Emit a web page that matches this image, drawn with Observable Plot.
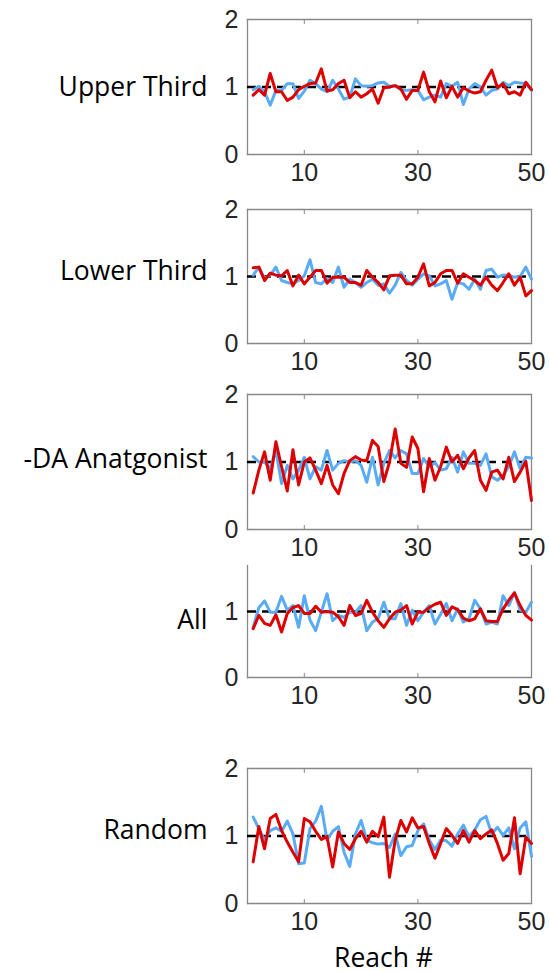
<!DOCTYPE html>
<html>
<head>
<meta charset="utf-8">
<script src="https://cdn.jsdelivr.net/npm/d3@7"></script>
<script src="https://cdn.jsdelivr.net/npm/@observablehq/plot@0.6"></script>
<style>
  html, body { margin: 0; padding: 0; background: #fff; }
  #chart { position: relative; width: 549px; height: 973px; overflow: hidden; }
</style>
</head>
<body>
<div id="chart"></div>
<script>
// ---- data ----
const reach = d3.range(1, 51);
const panelNames = ["Upper Third", "Lower Third", "-DA Anatgonist", "All", "Random"];
const xTickValues = [10, 30, 50];
const yTickValues = [0, 1, 2];
const referenceLevel = 1;
const xLabel = "Reach #";

const blueUpper = [0.96,1.01,0.93,0.73,0.95,0.95,1.05,1.05,0.83,0.94,1.10,1.05,0.97,0.93,1.10,0.97,0.82,0.85,1.12,1.02,1.01,1.02,1.06,1.07,1.01,1.02,0.96,0.95,0.96,0.95,0.81,0.85,0.88,0.85,1.05,1.01,1.07,0.74,0.97,1.05,1.00,0.88,0.95,0.97,1.07,1.02,1.07,1.06,1.05,0.95];
const redUpper  = [0.88,0.96,0.88,1.20,0.93,0.93,0.80,0.85,0.96,1.01,1.05,1.06,1.27,0.94,0.96,1.05,1.10,0.84,0.93,0.85,0.90,0.97,0.76,0.99,1.00,1.02,0.97,0.82,0.95,0.95,1.22,0.93,0.78,1.09,0.84,1.01,0.85,0.99,0.94,0.91,0.93,1.10,1.25,0.99,1.05,0.90,0.93,0.88,1.07,0.96];

const blueLower = [1.02,1.14,0.97,1.02,1.14,0.94,0.91,0.89,0.94,1.01,1.25,0.91,0.89,0.97,0.91,1.14,0.84,0.96,0.91,0.84,0.91,0.96,0.87,0.89,0.75,0.87,1.06,0.94,0.87,0.96,1.04,1.01,0.86,0.89,0.94,0.66,0.91,0.89,0.81,0.96,0.81,1.09,1.11,0.99,1.02,1.02,0.99,1.00,1.14,0.96];
const redLower  = [1.13,1.14,0.94,1.05,1.02,1.01,1.09,0.86,1.02,0.89,0.99,1.09,1.09,0.90,0.99,0.99,0.99,0.91,0.91,0.87,1.09,0.99,0.91,0.80,1.01,1.02,1.02,0.89,0.89,0.99,1.19,0.86,0.91,1.04,1.09,1.09,0.90,1.04,0.99,0.94,0.87,0.99,0.87,0.79,0.91,1.04,0.87,0.99,0.71,0.79];

const blueAntag = [1.08,1.00,1.00,0.90,1.17,0.68,0.95,0.75,0.88,1.07,0.75,0.93,0.88,1.17,0.88,0.98,1.02,1.00,1.02,0.95,0.70,1.07,0.66,0.98,1.17,1.06,1.17,1.12,0.83,0.83,1.05,0.93,0.99,0.88,0.90,1.07,0.85,1.15,0.98,0.98,0.95,1.12,0.78,0.73,0.80,0.93,1.15,0.90,1.07,1.06];
const redAntag  = [0.54,0.88,1.15,0.73,1.30,0.93,0.57,1.18,0.66,1.00,1.06,0.88,0.68,0.95,0.66,0.53,0.83,1.02,1.08,1.03,1.02,1.32,1.23,0.71,1.00,1.49,0.98,0.92,1.37,1.20,0.56,1.05,0.73,0.93,1.22,1.00,1.10,0.90,1.06,1.17,0.73,0.58,0.85,0.88,0.75,1.07,0.71,0.85,1.01,0.43];

const blueAll = [0.76,1.06,1.16,0.99,0.99,1.23,1.02,1.09,0.76,1.24,0.87,0.71,0.99,1.27,0.86,0.94,0.91,0.99,0.99,1.09,0.71,0.84,0.89,1.14,0.89,0.89,1.12,0.79,1.02,0.86,0.99,1.09,0.81,0.96,1.12,0.86,1.04,0.84,0.89,1.17,1.04,0.81,0.84,0.81,1.24,1.09,1.29,1.02,0.99,1.14];
const redAll  = [0.74,0.94,0.82,0.79,0.95,0.69,0.97,1.06,1.09,0.97,0.97,1.08,0.99,1.00,0.99,0.92,0.79,1.09,0.94,0.97,1.17,0.99,0.86,0.76,0.89,0.99,1.02,1.09,0.81,0.99,0.99,1.06,1.11,1.14,0.94,1.07,1.03,0.90,0.86,0.89,1.04,0.86,0.85,0.85,1.04,1.17,1.28,1.09,0.94,0.87];

const blueRandom = [1.28,1.11,0.94,1.08,1.12,1.07,1.22,1.03,0.59,0.60,1.11,1.22,1.44,0.94,1.07,1.14,0.76,0.55,1.03,1.23,0.94,0.90,0.88,0.89,0.83,1.03,0.71,0.84,0.86,1.08,1.18,0.94,0.80,0.94,0.93,0.85,1.03,1.16,0.99,1.09,1.24,1.29,1.03,1.13,1.01,1.12,0.81,1.12,1.21,0.70];
const redRandom  = [0.62,1.14,0.81,1.26,1.32,1.08,0.91,0.76,0.62,1.26,1.21,1.07,0.95,0.99,0.54,1.06,0.89,0.80,0.96,1.07,0.91,1.07,0.99,1.28,0.39,0.94,1.23,1.06,1.27,1.12,1.14,0.89,0.67,0.89,1.11,1.01,0.89,1.08,0.91,1.08,0.96,1.03,1.09,0.89,0.64,0.74,1.27,0.44,0.98,0.89];

const blueSeries = [blueUpper, blueLower, blueAntag, blueAll, blueRandom];
const redSeries  = [redUpper, redLower, redAntag, redAll, redRandom];

// ---- layout / style (not data) ----
const layout = [
  {top: 19,  bottom: 154, ymax: 2,     topFrame: true,  labelDy: 1},
  {top: 209, bottom: 343, ymax: 2,     topFrame: true,  labelDy: -5},
  {top: 394, bottom: 529, ymax: 2,     topFrame: true,  labelDy: -2},
  {top: 565, bottom: 677, ymax: 1.697, topFrame: false, labelDy: 9},
  {top: 768, bottom: 903, ymax: 2,     topFrame: true,  labelDy: -5}
];
const BLUE = "#5aabf5";
const RED = "#dd0000";
const AXIS = "#888888";
const TEXT = "#262626";
const tickFont = "Liberation Sans, Arial, sans-serif";
const labelFont = "Open Sans, sans-serif";
const MT = 20, MB = 70;

const chart = document.getElementById("chart");

panelNames.forEach((name, p) => {
  const L = layout[p];
  const innerH = L.bottom - L.top;
  const isLast = p === panelNames.length - 1;
  const frames = [
    Plot.frame({anchor: "left", stroke: AXIS, strokeWidth: 1.3}),
    Plot.frame({anchor: "right", stroke: AXIS, strokeWidth: 1.3}),
    Plot.frame({anchor: "bottom", stroke: AXIS, strokeWidth: 1.3})
  ];
  if (L.topFrame) frames.push(Plot.frame({anchor: "top", stroke: AXIS, strokeWidth: 1.3}));
  const yt = yTickValues.filter(v => v <= L.ymax);
  const marks = [
    ...frames,
    // inward x ticks
    Plot.axisX(xTickValues, {anchor: "bottom", tickSize: -4, text: null, stroke: AXIS}),
    ...(L.topFrame ? [Plot.axisX(xTickValues, {anchor: "top", tickSize: -4, text: null, stroke: AXIS})] : []),
    // tick labels
    Plot.axisX(xTickValues, {anchor: "bottom", tickSize: 0, tickPadding: 9, label: null, tickFormat: d => String(d), fill: TEXT, fontSize: 25, fontFamily: tickFont}),
    Plot.axisY(yt, {anchor: "left", tickSize: 0, tickPadding: 9, label: null, tickFormat: d => String(d), fill: TEXT, fontSize: 25, fontFamily: tickFont}),
    // reference line
    Plot.ruleY([referenceLevel], {stroke: "black", strokeWidth: 2.4, strokeDasharray: "9,6"}),
    // series
    Plot.lineY(blueSeries[p], {x: (d, i) => reach[i], y: d => d, stroke: BLUE, strokeWidth: 3, strokeLinejoin: "round"}),
    Plot.lineY(redSeries[p], {x: (d, i) => reach[i], y: d => d, stroke: RED, strokeWidth: 3, strokeLinejoin: "round"}),
    // panel label
    Plot.text([name], {x: 0, y: referenceLevel, text: d => d, dx: -40, dy: L.labelDy, textAnchor: "end", fontSize: 26.5, fontFamily: labelFont, fill: "#000"})
  ];
  if (isLast) {
    marks.push(Plot.text([xLabel], {frameAnchor: "bottom", text: d => d, dx: -6, dy: 63, fontSize: 26.5, fontFamily: labelFont, fill: "#000"}));
  }
  const svg = Plot.plot({
    width: 549,
    height: MT + innerH + MB,
    marginLeft: 247,
    marginRight: 18,
    marginTop: MT,
    marginBottom: MB,
    x: {domain: [0, 50]},
    y: {domain: [0, L.ymax]},
    style: {overflow: "visible", background: "transparent"},
    marks
  });
  svg.style.position = "absolute";
  svg.style.left = "0px";
  svg.style.top = (L.top - MT) + "px";
  chart.appendChild(svg);
});
</script>
</body>
</html>
